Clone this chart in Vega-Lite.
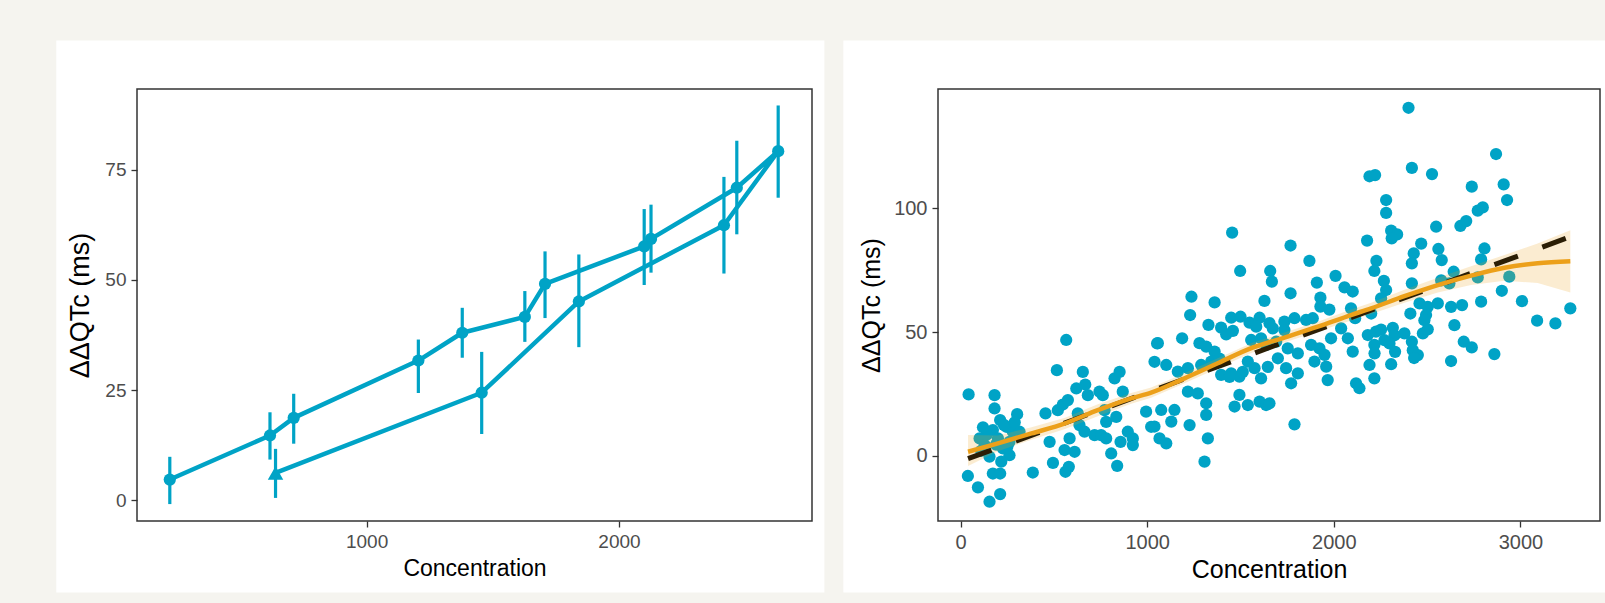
{
  "$schema": "https://vega.github.io/schema/vega-lite/v6.json",
  "background": "#F5F4EF",
  "padding": {"left": 56, "top": 40, "right": 0, "bottom": 11},
  "spacing": 18,
  "config": {
    "view": {"stroke": null},
    "axis": {
      "domain": false, "grid": false, "ticks": true, "tickColor": "#333333", "tickSize": 6, "tickWidth": 1.3,
      "labelFont": "Liberation Sans", "labelFontSize": 20, "labelColor": "#4D4D4D", "labelPadding": 5,
      "titleFont": "Liberation Sans", "titleFontSize": 25, "titleFontWeight": "normal", "titleColor": "#000000"
    }
  },
  "datasets": {
    "hyst": [
      {"t": 1, "conc": 639, "dqtc": 6.2, "lo": 0.9, "hi": 11.3, "first": "yes"},
      {"t": 2, "conc": 1456, "dqtc": 24.4, "lo": 15.4, "hi": 33.3, "first": "no"},
      {"t": 3, "conc": 1841, "dqtc": 45.1, "lo": 35.1, "hi": 55.4, "first": "no"},
      {"t": 4, "conc": 2416, "dqtc": 62.4, "lo": 51.8, "hi": 73.0, "first": "no"},
      {"t": 5, "conc": 2631, "dqtc": 79.2, "lo": 69.0, "hi": 89.2, "first": "no"},
      {"t": 6, "conc": 2467, "dqtc": 70.9, "lo": 60.7, "hi": 81.2, "first": "no"},
      {"t": 7, "conc": 2127, "dqtc": 59.3, "lo": 52.0, "hi": 66.7, "first": "no"},
      {"t": 8, "conc": 2100, "dqtc": 57.6, "lo": 49.2, "hi": 65.7, "first": "no"},
      {"t": 9, "conc": 1707, "dqtc": 49.1, "lo": 41.7, "hi": 56.1, "first": "no"},
      {"t": 10, "conc": 1627, "dqtc": 41.6, "lo": 36.3, "hi": 47.1, "first": "no"},
      {"t": 11, "conc": 1379, "dqtc": 38.0, "lo": 32.7, "hi": 43.3, "first": "no"},
      {"t": 12, "conc": 1205, "dqtc": 31.7, "lo": 24.7, "hi": 36.1, "first": "no"},
      {"t": 13, "conc": 711, "dqtc": 18.7, "lo": 13.2, "hi": 23.8, "first": "no"},
      {"t": 14, "conc": 617, "dqtc": 14.7, "lo": 9.6, "hi": 19.6, "first": "no"},
      {"t": 15, "conc": 220, "dqtc": 4.7, "lo": -0.5, "hi": 9.5, "first": "no"}
    ],
    "lm": [
      {"conc": 40, "fit": -1.2},
      {"conc": 3265, "fit": 88.5}
    ],
    "loess": [
      {"conc": 40, "fit": 1.6, "lo": -4.2, "hi": 8.4},
      {"conc": 200, "fit": 5.0, "lo": 1.8, "hi": 8.2},
      {"conc": 380, "fit": 9.0, "lo": 6.5, "hi": 11.5},
      {"conc": 560, "fit": 13.1, "lo": 10.8, "hi": 15.4},
      {"conc": 735, "fit": 18.4, "lo": 16.0, "hi": 20.8},
      {"conc": 914, "fit": 23.2, "lo": 21.0, "hi": 25.4},
      {"conc": 1021, "fit": 25.5, "lo": 23.4, "hi": 27.6},
      {"conc": 1200, "fit": 31.3, "lo": 29.3, "hi": 33.3},
      {"conc": 1378, "fit": 37.4, "lo": 35.4, "hi": 39.4},
      {"conc": 1557, "fit": 43.5, "lo": 41.5, "hi": 45.5},
      {"conc": 1735, "fit": 47.8, "lo": 45.8, "hi": 49.8},
      {"conc": 1914, "fit": 52.2, "lo": 50.2, "hi": 54.2},
      {"conc": 2092, "fit": 56.9, "lo": 54.7, "hi": 59.1},
      {"conc": 2200, "fit": 59.6, "lo": 57.3, "hi": 61.9},
      {"conc": 2378, "fit": 64.5, "lo": 61.9, "hi": 67.1},
      {"conc": 2557, "fit": 69.0, "lo": 66.0, "hi": 72.0},
      {"conc": 2735, "fit": 72.8, "lo": 69.0, "hi": 76.6},
      {"conc": 2914, "fit": 76.0, "lo": 70.8, "hi": 81.2},
      {"conc": 3092, "fit": 77.8, "lo": 69.8, "hi": 85.8},
      {"conc": 3267, "fit": 78.6, "lo": 66.0, "hi": 91.2}
    ],
    "obs": [
      {"conc":43,"dqtc":24.8},{"conc":39,"dqtc":-8.2},{"conc":93,"dqtc":-12.8},{"conc":155,"dqtc":-18.6},{"conc":212,"dqtc":-15.5},
      {"conc":182,"dqtc":24.5},{"conc":182,"dqtc":19.1},{"conc":212,"dqtc":14.4},{"conc":173,"dqtc":-7.2},{"conc":212,"dqtc":-7.2},
      {"conc":102,"dqtc":7.0},{"conc":129,"dqtc":4.3},{"conc":173,"dqtc":10.4},{"conc":200,"dqtc":7.0},{"conc":227,"dqtc":3.0},
      {"conc":245,"dqtc":11.7},{"conc":262,"dqtc":0.2},{"conc":218,"dqtc":-2.4},{"conc":155,"dqtc":-0.4},{"conc":303,"dqtc":16.8},
      {"conc":280,"dqtc":9.7},{"conc":316,"dqtc":9.7},{"conc":262,"dqtc":5.6},{"conc":387,"dqtc":-6.8},{"conc":455,"dqtc":17.1},
      {"conc":477,"dqtc":5.6},{"conc":495,"dqtc":-2.9},{"conc":516,"dqtc":34.6},{"conc":521,"dqtc":18.4},{"conc":548,"dqtc":20.7},
      {"conc":566,"dqtc":46.8},{"conc":575,"dqtc":22.5},{"conc":557,"dqtc":2.3},{"conc":562,"dqtc":-6.5},{"conc":580,"dqtc":-4.5},
      {"conc":611,"dqtc":1.6},{"conc":584,"dqtc":7.0},{"conc":620,"dqtc":27.2},{"conc":655,"dqtc":33.9},{"conc":668,"dqtc":28.8},
      {"conc":628,"dqtc":17.1},{"conc":637,"dqtc":12.4},{"conc":682,"dqtc":24.5},{"conc":664,"dqtc":9.7},{"conc":718,"dqtc":8.3},
      {"conc":744,"dqtc":25.9},{"conc":762,"dqtc":24.5},{"conc":771,"dqtc":18.4},{"conc":780,"dqtc":13.7},{"conc":753,"dqtc":8.3},
      {"conc":780,"dqtc":7.0},{"conc":807,"dqtc":0.9},{"conc":839,"dqtc":-4.1},{"conc":825,"dqtc":31.3},{"conc":852,"dqtc":33.9},
      {"conc":869,"dqtc":25.9},{"conc":834,"dqtc":15.7},{"conc":857,"dqtc":5.6},{"conc":896,"dqtc":9.7},{"conc":923,"dqtc":7.0},
      {"conc":923,"dqtc":4.3},{"conc":994,"dqtc":17.8},{"conc":1021,"dqtc":11.7},{"conc":1039,"dqtc":38.0},{"conc":1053,"dqtc":45.4},
      {"conc":1066,"dqtc":7.0},{"conc":110,"dqtc":2.0},{"conc":140,"dqtc":8.5},{"conc":190,"dqtc":4.5},{"conc":232,"dqtc":12.5},
      {"conc":250,"dqtc":3.5},{"conc":290,"dqtc":13.5},{"conc":120,"dqtc":11.5},
      {"conc":1455,"dqtc":90.2},{"conc":1768,"dqtc":85.0},{"conc":1869,"dqtc":78.8},{"conc":2178,"dqtc":87.0},{"conc":1498,"dqtc":74.7},
      {"conc":1659,"dqtc":74.7},{"conc":1668,"dqtc":70.4},{"conc":1909,"dqtc":70.0},{"conc":2009,"dqtc":72.7},{"conc":2228,"dqtc":78.8},
      {"conc":2217,"dqtc":74.7},{"conc":1768,"dqtc":65.7},{"conc":1237,"dqtc":64.3},{"conc":1361,"dqtc":62.0},{"conc":1628,"dqtc":62.6},
      {"conc":1928,"dqtc":63.9},{"conc":2057,"dqtc":68.1},{"conc":2101,"dqtc":66.4},{"conc":1230,"dqtc":56.9},{"conc":1328,"dqtc":52.9},
      {"conc":1450,"dqtc":55.8},{"conc":1500,"dqtc":56.2},{"conc":1396,"dqtc":51.8},{"conc":1423,"dqtc":49.1},{"conc":1459,"dqtc":50.5},
      {"conc":1548,"dqtc":53.8},{"conc":1602,"dqtc":55.8},{"conc":1584,"dqtc":52.2},{"conc":1655,"dqtc":53.6},{"conc":1673,"dqtc":51.5},
      {"conc":1735,"dqtc":54.2},{"conc":1789,"dqtc":55.6},{"conc":1851,"dqtc":54.9},{"conc":1887,"dqtc":55.6},{"conc":1928,"dqtc":60.3},
      {"conc":1976,"dqtc":59.1},{"conc":2092,"dqtc":59.6},{"conc":2114,"dqtc":55.6},{"conc":1057,"dqtc":45.5},{"conc":1187,"dqtc":47.5},
      {"conc":1280,"dqtc":45.5},{"conc":1316,"dqtc":44.1},{"conc":1361,"dqtc":42.1},{"conc":1557,"dqtc":46.8},{"conc":1610,"dqtc":47.5},
      {"conc":1637,"dqtc":44.8},{"conc":1691,"dqtc":46.1},{"conc":1753,"dqtc":43.4},{"conc":1807,"dqtc":41.4},{"conc":1878,"dqtc":44.8},
      {"conc":1923,"dqtc":43.4},{"conc":1950,"dqtc":40.8},{"conc":1985,"dqtc":47.5},{"conc":2039,"dqtc":51.5},{"conc":2075,"dqtc":47.5},
      {"conc":2101,"dqtc":42.1},{"conc":2182,"dqtc":48.8},{"conc":2226,"dqtc":50.2},{"conc":2217,"dqtc":44.8},{"conc":1102,"dqtc":36.7},
      {"conc":1164,"dqtc":34.0},{"conc":1218,"dqtc":35.4},{"conc":1289,"dqtc":36.7},{"conc":1343,"dqtc":38.1},{"conc":1396,"dqtc":32.7},
      {"conc":1450,"dqtc":33.3},{"conc":1494,"dqtc":32.0},{"conc":1539,"dqtc":38.1},{"conc":1575,"dqtc":35.4},{"conc":1610,"dqtc":31.3},
      {"conc":1700,"dqtc":39.4},{"conc":1744,"dqtc":35.4},{"conc":1807,"dqtc":33.3},{"conc":1771,"dqtc":29.3},{"conc":1896,"dqtc":38.1},
      {"conc":1959,"dqtc":36.0},{"conc":1967,"dqtc":30.6},{"conc":2119,"dqtc":29.3},{"conc":2137,"dqtc":27.3},{"conc":2191,"dqtc":36.7},
      {"conc":2217,"dqtc":31.3},{"conc":1218,"dqtc":25.9},{"conc":1271,"dqtc":25.2},{"conc":1316,"dqtc":21.2},{"conc":1316,"dqtc":16.5},
      {"conc":1468,"dqtc":19.9},{"conc":1494,"dqtc":24.6},{"conc":1539,"dqtc":20.5},{"conc":1602,"dqtc":21.9},{"conc":1637,"dqtc":20.5},
      {"conc":1655,"dqtc":21.2},{"conc":1075,"dqtc":18.5},{"conc":1146,"dqtc":18.5},{"conc":1129,"dqtc":13.8},{"conc":1039,"dqtc":11.8},
      {"conc":1102,"dqtc":5.0},{"conc":1227,"dqtc":12.4},{"conc":1325,"dqtc":7.0},{"conc":1789,"dqtc":12.7},{"conc":1307,"dqtc":-2.4},
      {"conc":1387,"dqtc":39.3},{"conc":1441,"dqtc":31.9},{"conc":1512,"dqtc":33.9},{"conc":1646,"dqtc":35.9},{"conc":1735,"dqtc":50.8},
      {"conc":2400,"dqtc":140.7},{"conc":2869,"dqtc":122.0},{"conc":2418,"dqtc":116.4},{"conc":2526,"dqtc":113.9},{"conc":2221,"dqtc":113.5},
      {"conc":2191,"dqtc":113.0},{"conc":2739,"dqtc":108.8},{"conc":2910,"dqtc":109.7},{"conc":2928,"dqtc":103.4},{"conc":2280,"dqtc":103.4},
      {"conc":2280,"dqtc":98.2},{"conc":2771,"dqtc":99.1},{"conc":2798,"dqtc":100.4},{"conc":2678,"dqtc":92.9},{"conc":2709,"dqtc":94.9},
      {"conc":2307,"dqtc":91.0},{"conc":2339,"dqtc":89.5},{"conc":2310,"dqtc":87.9},{"conc":2548,"dqtc":92.6},{"conc":2468,"dqtc":85.8},
      {"conc":2428,"dqtc":81.8},{"conc":2418,"dqtc":77.8},{"conc":2560,"dqtc":83.6},{"conc":2578,"dqtc":79.1},{"conc":2807,"dqtc":83.8},
      {"conc":2789,"dqtc":79.4},{"conc":2642,"dqtc":74.4},{"conc":2268,"dqtc":70.7},{"conc":2280,"dqtc":67.0},{"conc":2418,"dqtc":69.7},
      {"conc":2575,"dqtc":70.9},{"conc":2619,"dqtc":69.7},{"conc":2771,"dqtc":72.1},{"conc":2940,"dqtc":72.4},{"conc":2900,"dqtc":66.7},
      {"conc":2253,"dqtc":63.6},{"conc":2459,"dqtc":61.6},{"conc":2503,"dqtc":60.2},{"conc":2557,"dqtc":61.6},{"conc":2628,"dqtc":60.2},
      {"conc":2687,"dqtc":60.9},{"conc":2789,"dqtc":62.3},{"conc":3008,"dqtc":62.5},{"conc":3267,"dqtc":59.6},{"conc":3089,"dqtc":54.6},
      {"conc":3187,"dqtc":53.5},{"conc":2410,"dqtc":57.5},{"conc":2494,"dqtc":56.9},{"conc":2485,"dqtc":54.8},{"conc":2200,"dqtc":57.5},
      {"conc":2253,"dqtc":51.0},{"conc":2316,"dqtc":51.7},{"conc":2325,"dqtc":48.7},{"conc":2378,"dqtc":49.5},{"conc":2271,"dqtc":46.7},
      {"conc":2298,"dqtc":45.4},{"conc":2418,"dqtc":46.1},{"conc":2646,"dqtc":52.8},{"conc":2477,"dqtc":49.5},{"conc":2503,"dqtc":51.1},
      {"conc":2423,"dqtc":42.7},{"conc":2450,"dqtc":40.7},{"conc":2430,"dqtc":39.5},{"conc":2696,"dqtc":46.1},{"conc":2739,"dqtc":43.8},
      {"conc":2328,"dqtc":42.0},{"conc":2218,"dqtc":41.4},{"conc":2307,"dqtc":37.0},{"conc":2628,"dqtc":38.3},{"conc":2860,"dqtc":41.1}
    ]
  },
  "hconcat": [
    {
      "width": 675,
      "height": 432,
      "layer": [
        {
          "data": {"values": [{}]},
          "mark": {"type": "rect", "fill": "#FFFFFF", "clip": false},
          "encoding": {
            "x": {"datum": -229.9, "type": "quantitative", "scale": {"domain": [90, 2765], "nice": false, "zero": false}, "axis": {"values": [1000, 2000], "format": "d", "title": "Concentration", "titleFontSize": 23, "labelFontSize": 19, "titlePadding": 6, "zindex": 1}},
            "x2": {"datum": 2814.1},
            "y": {"datum": 104.3, "type": "quantitative", "scale": {"domain": [-4.7, 93.3], "nice": false, "zero": false}, "axis": {"values": [0, 25, 50, 75], "format": "d", "title": "ΔΔQTc (ms)", "titleFontSize": 27, "labelFontSize": 19, "titlePadding": 10, "zindex": 1}},
            "y2": {"datum": -20.9}
          }
        },
        {
          "data": {"name": "hyst"},
          "mark": {"type": "rule", "color": "#00A3C6", "strokeWidth": 3.2, "strokeCap": "square"},
          "encoding": {
            "x": {"field": "conc", "type": "quantitative", "axis": {"values": [1000, 2000], "format": "d", "title": "Concentration", "titleFontSize": 23, "labelFontSize": 19, "titlePadding": 6, "zindex": 1}},
            "y": {"field": "lo", "type": "quantitative", "axis": {"values": [0, 25, 50, 75], "format": "d", "title": "ΔΔQTc (ms)", "titleFontSize": 27, "labelFontSize": 19, "titlePadding": 10, "zindex": 1}},
            "y2": {"field": "hi"}
          }
        },
        {
          "data": {"name": "hyst"},
          "mark": {"type": "line", "color": "#00A3C6", "strokeWidth": 4.5, "strokeJoin": "round"},
          "encoding": {
            "x": {"field": "conc", "type": "quantitative", "axis": {"values": [1000, 2000], "format": "d", "title": "Concentration", "titleFontSize": 23, "labelFontSize": 19, "titlePadding": 6, "zindex": 1}},
            "y": {"field": "dqtc", "type": "quantitative", "axis": {"values": [0, 25, 50, 75], "format": "d", "title": "ΔΔQTc (ms)", "titleFontSize": 27, "labelFontSize": 19, "titlePadding": 10, "zindex": 1}},
            "order": {"field": "t", "type": "quantitative"}
          }
        },
        {
          "data": {"name": "hyst"},
          "mark": {"type": "point", "filled": true, "color": "#00A3C6", "opacity": 1},
          "encoding": {
            "x": {"field": "conc", "type": "quantitative", "axis": {"values": [1000, 2000], "format": "d", "title": "Concentration", "titleFontSize": 23, "labelFontSize": 19, "titlePadding": 6, "zindex": 1}},
            "y": {"field": "dqtc", "type": "quantitative", "axis": {"values": [0, 25, 50, 75], "format": "d", "title": "ΔΔQTc (ms)", "titleFontSize": 27, "labelFontSize": 19, "titlePadding": 10, "zindex": 1}},
            "shape": {"field": "first", "type": "nominal", "scale": {"domain": ["no", "yes"], "range": ["circle", "triangle-up"]}, "legend": null},
            "size": {"field": "first", "type": "nominal", "scale": {"domain": ["no", "yes"], "range": [150, 240]}, "legend": null}
          }
        },
        {
          "data": {"values": [{}]},
          "mark": {"type": "rect", "fill": "transparent", "stroke": "#333333", "strokeWidth": 1.5, "clip": false},
          "encoding": {
            "x": {"datum": 90, "type": "quantitative", "axis": {"values": [1000, 2000], "format": "d", "title": "Concentration", "titleFontSize": 23, "labelFontSize": 19, "titlePadding": 6, "zindex": 1}},
            "x2": {"datum": 2765},
            "y": {"datum": 93.3, "type": "quantitative", "axis": {"values": [0, 25, 50, 75], "format": "d", "title": "ΔΔQTc (ms)", "titleFontSize": 27, "labelFontSize": 19, "titlePadding": 10, "zindex": 1}},
            "y2": {"datum": -4.7}
          }
        }
      ]
    },
    {
      "width": 662,
      "height": 432,
      "layer": [
        {
          "data": {"values": [{}]},
          "mark": {"type": "rect", "fill": "#FFFFFF", "clip": false},
          "encoding": {
            "x": {"datum": -628.2, "type": "quantitative", "scale": {"domain": [-121, 3426], "nice": false, "zero": false}, "axis": {"values": [0, 1000, 2000, 3000], "format": "d", "title": "Concentration", "titlePadding": 5, "zindex": 1}},
            "x2": {"datum": 3458.5},
            "y": {"datum": 167.9, "type": "quantitative", "scale": {"domain": [-26.4, 148.3], "nice": false, "zero": false}, "axis": {"values": [0, 50, 100], "format": "d", "title": "ΔΔQTc (ms)", "titlePadding": 9, "zindex": 1}},
            "y2": {"datum": -55.3}
          }
        },
        {
          "data": {"name": "obs"},
          "mark": {"type": "circle", "color": "#00A3C6", "opacity": 1, "size": 150},
          "encoding": {
            "x": {"field": "conc", "type": "quantitative", "axis": {"values": [0, 1000, 2000, 3000], "format": "d", "title": "Concentration", "titlePadding": 5, "zindex": 1}},
            "y": {"field": "dqtc", "type": "quantitative", "axis": {"values": [0, 50, 100], "format": "d", "title": "ΔΔQTc (ms)", "titlePadding": 9, "zindex": 1}}
          }
        },
        {
          "data": {"name": "loess"},
          "mark": {"type": "area", "color": "#E9A21B", "opacity": 0.2},
          "encoding": {
            "x": {"field": "conc", "type": "quantitative", "axis": {"values": [0, 1000, 2000, 3000], "format": "d", "title": "Concentration", "titlePadding": 5, "zindex": 1}},
            "y": {"field": "lo", "type": "quantitative", "axis": {"values": [0, 50, 100], "format": "d", "title": "ΔΔQTc (ms)", "titlePadding": 9, "zindex": 1}},
            "y2": {"field": "hi"}
          }
        },
        {
          "data": {"name": "lm"},
          "mark": {"type": "line", "color": "#2B1E05", "strokeWidth": 5, "strokeDash": [25, 26]},
          "encoding": {
            "x": {"field": "conc", "type": "quantitative", "axis": {"values": [0, 1000, 2000, 3000], "format": "d", "title": "Concentration", "titlePadding": 5, "zindex": 1}},
            "y": {"field": "fit", "type": "quantitative", "axis": {"values": [0, 50, 100], "format": "d", "title": "ΔΔQTc (ms)", "titlePadding": 9, "zindex": 1}}
          }
        },
        {
          "data": {"name": "loess"},
          "mark": {"type": "line", "color": "#ECA01A", "strokeWidth": 4.5, "interpolate": "monotone"},
          "encoding": {
            "x": {"field": "conc", "type": "quantitative", "axis": {"values": [0, 1000, 2000, 3000], "format": "d", "title": "Concentration", "titlePadding": 5, "zindex": 1}},
            "y": {"field": "fit", "type": "quantitative", "axis": {"values": [0, 50, 100], "format": "d", "title": "ΔΔQTc (ms)", "titlePadding": 9, "zindex": 1}}
          }
        },
        {
          "data": {"values": [{}]},
          "mark": {"type": "rect", "fill": "transparent", "stroke": "#333333", "strokeWidth": 1.5, "clip": false},
          "encoding": {
            "x": {"datum": -121, "type": "quantitative", "axis": {"values": [0, 1000, 2000, 3000], "format": "d", "title": "Concentration", "titlePadding": 5, "zindex": 1}},
            "x2": {"datum": 3426},
            "y": {"datum": 148.3, "type": "quantitative", "axis": {"values": [0, 50, 100], "format": "d", "title": "ΔΔQTc (ms)", "titlePadding": 9, "zindex": 1}},
            "y2": {"datum": -26.4}
          }
        }
      ]
    }
  ]
}
